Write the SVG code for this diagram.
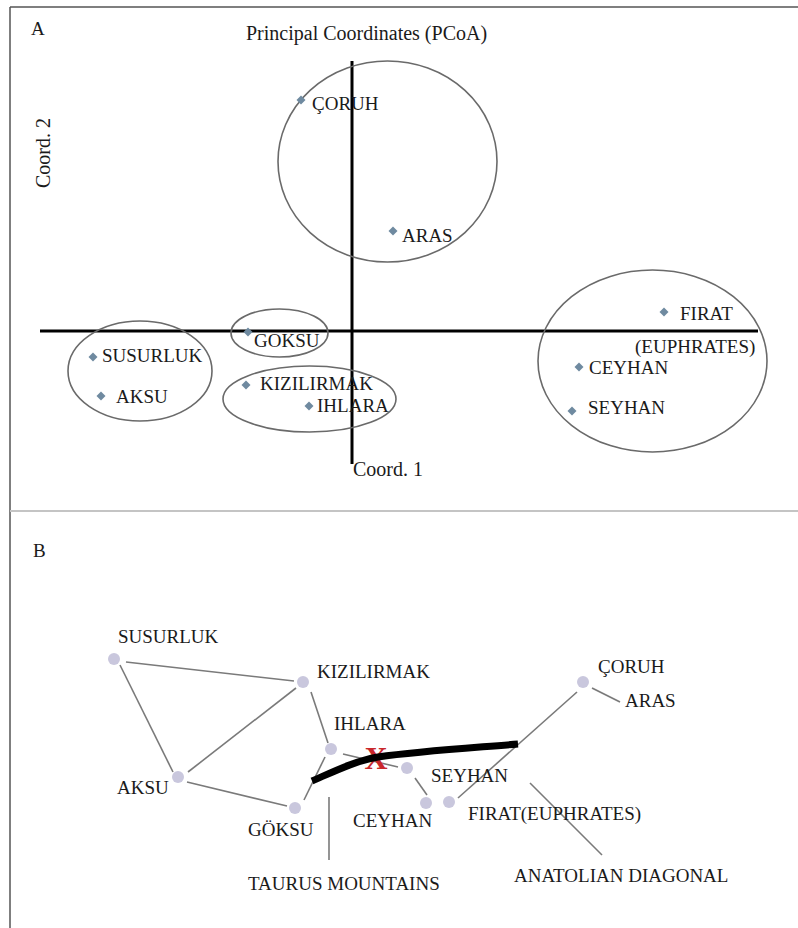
<svg xmlns="http://www.w3.org/2000/svg" width="798" height="928" viewBox="0 0 798 928">
<style>
text{font-family:"Liberation Serif","Times New Roman",serif;fill:#1a1a1a;font-size:19px}
text.lbl{font-size:19px}
text.ttl{font-size:20px}
text.x{font-size:32px;font-weight:bold;fill:#c9272b}
.ell{fill:none;stroke:#6a6a6a;stroke-width:1.6}
.axis{stroke:#000;stroke-width:3}
.dia{fill:#6f8aa0}
.nd{fill:#c9c7dd}
.edge{stroke:#7a7a7a;stroke-width:1.6;fill:none}
</style>
<defs>
<polygon id="dm" points="0,-4.5 4.5,0 0,4.5 -4.5,0" class="dia"/>
</defs>
<rect width="798" height="928" fill="#fff"/>
<g id="frame">
<line x1="10" y1="7" x2="798" y2="7" stroke="#555" stroke-width="1.5"/>
<line x1="10" y1="7" x2="10" y2="928" stroke="#555" stroke-width="1.5"/>
<line x1="10" y1="511" x2="798" y2="511" stroke="#c4c4c4" stroke-width="2"/>
</g>
<g id="panelA">
<text class="lbl" x="31" y="35">A</text>
<text class="ttl" x="246" y="40">Principal Coordinates (PCoA)</text>
<text class="ttl" transform="translate(50,188) rotate(-90)">Coord. 2</text>
<text class="ttl" x="353" y="476">Coord. 1</text>
<g id="axes">
<line class="axis" x1="40" y1="331" x2="758" y2="331"/>
<line class="axis" x1="352" y1="61" x2="352" y2="464"/>
</g>
<g id="clusters">
<ellipse class="ell" cx="387.5" cy="161.5" rx="109.5" ry="100.5"/>
<ellipse class="ell" cx="279.5" cy="333" rx="48.5" ry="24"/>
<ellipse class="ell" cx="140" cy="371" rx="72" ry="50"/>
<ellipse class="ell" cx="309.5" cy="399" rx="86.5" ry="33"/>
<ellipse class="ell" cx="652.5" cy="361" rx="114.5" ry="91"/>
</g>
<g id="a-coruh"><use href="#dm" x="301" y="100"/><text x="312" y="110">ÇORUH</text></g>
<g id="a-aras"><use href="#dm" x="393" y="231"/><text x="402" y="242">ARAS</text></g>
<g id="a-goksu"><use href="#dm" x="248" y="332"/><text x="254" y="347">GOKSU</text></g>
<g id="a-susurluk"><use href="#dm" x="93" y="357"/><text x="102" y="362">SUSURLUK</text></g>
<g id="a-aksu"><use href="#dm" x="101" y="396"/><text x="116" y="403">AKSU</text></g>
<g id="a-kizilirmak"><use href="#dm" x="246" y="385"/><text x="260" y="390">KIZILIRMAK</text></g>
<g id="a-ihlara"><use href="#dm" x="309" y="406"/><text x="317" y="412">IHLARA</text></g>
<g id="a-firat"><use href="#dm" x="664" y="312"/><text x="680" y="320">FIRAT</text><text x="635" y="353">(EUPHRATES)</text></g>
<g id="a-ceyhan"><use href="#dm" x="579" y="367"/><text x="589" y="374">CEYHAN</text></g>
<g id="a-seyhan"><use href="#dm" x="572" y="411"/><text x="588" y="414">SEYHAN</text></g>
</g>
<g id="panelB">
<text class="lbl" x="33" y="557">B</text>
<g id="connectors">
<line class="edge" x1="126" y1="662" x2="294" y2="681"/>
<line class="edge" x1="120" y1="665" x2="173" y2="772"/>
<line class="edge" x1="188" y1="772" x2="296" y2="688"/>
<line class="edge" x1="187" y1="782" x2="287" y2="806"/>
<line class="edge" x1="311" y1="692" x2="328" y2="743"/>
<line class="edge" x1="325" y1="757" x2="304" y2="800"/>
<line class="edge" x1="343" y1="754" x2="398" y2="767"/>
<line class="edge" x1="415" y1="778" x2="427" y2="795"/>
<line class="edge" x1="458" y1="798" x2="577" y2="692"/>
<line class="edge" x1="592" y1="688" x2="620" y2="702"/>
<line class="edge" x1="329" y1="797" x2="329" y2="860"/>
<line class="edge" x1="530" y1="783" x2="602" y2="855"/>
</g>
<g id="b-susurluk"><circle class="nd" cx="114" cy="659" r="6"/><text x="118" y="643">SUSURLUK</text></g>
<g id="b-kizilirmak"><circle class="nd" cx="303" cy="682" r="6"/><text x="317" y="678">KIZILIRMAK</text></g>
<g id="b-ihlara"><circle class="nd" cx="331" cy="749" r="6"/><text x="334" y="730">IHLARA</text></g>
<g id="b-aksu"><circle class="nd" cx="178" cy="777" r="6"/><text x="117" y="794">AKSU</text></g>
<g id="b-goksu"><circle class="nd" cx="295" cy="808" r="6"/><text x="248" y="836">GÖKSU</text></g>
<g id="b-seyhan"><circle class="nd" cx="407" cy="768" r="6"/><text x="431" y="782">SEYHAN</text></g>
<g id="b-ceyhan"><circle class="nd" cx="426" cy="803" r="6"/><text x="353" y="827">CEYHAN</text></g>
<g id="b-firat"><circle class="nd" cx="449" cy="802" r="6"/><text x="468" y="820">FIRAT(EUPHRATES)</text></g>
<g id="b-coruh"><circle class="nd" cx="583" cy="682" r="6"/><text x="598" y="673">ÇORUH</text></g>
<g id="b-aras"><text x="625" y="707">ARAS</text></g>
<g id="b-taurus"><text x="248" y="890">TAURUS MOUNTAINS</text></g>
<g id="b-anatolian"><text x="514" y="882">ANATOLIAN DIAGONAL</text></g>
<g id="barrier">
<text class="x" x="376" y="769" text-anchor="middle">X</text>
<path d="M312,781 C335,771 355,761 378,757 C420,751 470,748 518,744" fill="none" stroke="#000" stroke-width="7"/>
</g>
</g>
</svg>
